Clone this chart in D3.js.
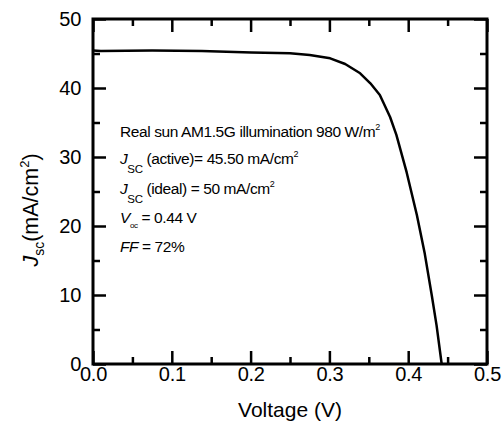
<!DOCTYPE html>
<meta charset="utf-8">
<title>J-V curve</title>
<style>
    body { margin: 0; background: #fff; }
    svg { display: block; }
    text { font-family: "Liberation Sans", Arial, sans-serif; fill: #000; }
    .axis .domain { display: none; }
    .axis .tick line { stroke: #000; stroke-width: 2.5; }
    .axis .tick text { font-size: 20px; letter-spacing: -0.3px; }
    .frame { fill: none; stroke: #000; stroke-width: 3; }
    .curve { fill: none; stroke: #000; stroke-width: 2.5; stroke-linejoin: round; }
    .note { font-size: 15.5px; letter-spacing: -0.4px; }
</style>
<body></body>
<script src="https://cdn.jsdelivr.net/npm/d3@7"></script>
<script>
    // J-V curve
    var voltage = [0.000, 0.010, 0.075, 0.138, 0.201, 0.250, 0.275, 0.301, 0.320, 0.339, 0.352,
                   0.364, 0.368, 0.377, 0.385, 0.398, 0.411, 0.421, 0.430, 0.436, 0.4425];
    var current = [45.45, 45.35, 45.42, 45.36, 45.15, 45.03, 44.78, 44.30, 43.48, 42.13, 40.68,
                   38.99, 38.00, 35.80, 33.20, 27.80, 21.60, 16.00, 9.90, 5.60, 0.0];

    var xMajor = [0.0, 0.1, 0.2, 0.3, 0.4, 0.5];
    var xMinor = [0.05, 0.15, 0.25, 0.35, 0.45];
    var yMajor = [0, 10, 20, 30, 40, 50];
    var yMinor = [5, 15, 25, 35, 45];

    var margin = {top: 19, right: 15, bottom: 59, left: 93},
        width = 502 - margin.left - margin.right,
        height = 423 - margin.top - margin.bottom;

    var x = d3.scaleLinear().domain([0, 0.5]).range([0, width]);
    var y = d3.scaleLinear().domain([0, 50]).range([height, 0]);

    var svg = d3.select("body").append("svg")
        .attr("width", 502)
        .attr("height", 423)
        .append("g")
        .attr("transform", "translate(" + margin.left + "," + margin.top + ")");

    // bottom
    svg.append("g").attr("class", "axis")
        .attr("transform", "translate(0," + height + ")")
        .call(d3.axisBottom(x).tickValues(xMajor).tickSize(-13).tickPadding(3)
            .tickFormat(d3.format(".1f")));
    svg.append("g").attr("class", "axis")
        .attr("transform", "translate(0," + height + ")")
        .call(d3.axisBottom(x).tickValues(xMinor).tickSize(-7).tickFormat(""));
    // top
    svg.append("g").attr("class", "axis")
        .call(d3.axisTop(x).tickValues(xMajor).tickSize(-13).tickFormat(""));
    svg.append("g").attr("class", "axis")
        .call(d3.axisTop(x).tickValues(xMinor).tickSize(-7).tickFormat(""));
    // left
    svg.append("g").attr("class", "axis")
        .call(d3.axisLeft(y).tickValues(yMajor).tickSize(-13).tickPadding(12));
    svg.append("g").attr("class", "axis")
        .call(d3.axisLeft(y).tickValues(yMinor).tickSize(-7).tickFormat(""));
    // right
    svg.append("g").attr("class", "axis")
        .attr("transform", "translate(" + width + ",0)")
        .call(d3.axisRight(y).tickValues(yMajor).tickSize(-13).tickFormat(""));
    svg.append("g").attr("class", "axis")
        .attr("transform", "translate(" + width + ",0)")
        .call(d3.axisRight(y).tickValues(yMinor).tickSize(-7).tickFormat(""));

    svg.append("rect").attr("class", "frame")
        .attr("width", width).attr("height", height);

    var line = d3.line()
        .x(function(d, i) { return x(voltage[i]); })
        .y(function(d, i) { return y(current[i]); });
    svg.append("path").attr("class", "curve").attr("d", line(voltage));

    // axis titles
    svg.append("text")
        .attr("x", 197).attr("y", height + 53)
        .attr("text-anchor", "middle")
        .style("font-size", "21px")
        .text("Voltage (V)");

    var yt = svg.append("text")
        .attr("transform", "translate(-55,191) rotate(-90)")
        .attr("text-anchor", "middle")
        .style("font-size", "21.5px");
    yt.append("tspan").style("font-style", "italic").text("J");
    yt.append("tspan").attr("dy", 6).style("font-size", "14px").text("sc");
    yt.append("tspan").attr("dy", -6).text("(mA/cm");
    yt.append("tspan").attr("dy", -9).style("font-size", "13px").text("2");
    yt.append("tspan").attr("dy", 9).text(")");

    // notes
    var nx = 27;
    var n1 = svg.append("text").attr("class", "note").attr("x", nx).attr("y", 118);
    n1.append("tspan").text("Real sun AM1.5G illumination 980 W/m");
    n1.append("tspan").attr("dy", -7).style("font-size", "9px").text("2");

    var n2 = svg.append("text").attr("class", "note").attr("x", nx).attr("y", 145);
    n2.append("tspan").style("font-style", "italic").text("J");
    n2.append("tspan").attr("dy", 9).style("font-size", "11.5px").text("SC");
    n2.append("tspan").attr("dy", -9).text(" (active)= 45.50 mA/cm");
    n2.append("tspan").attr("dy", -7).style("font-size", "9px").text("2");

    var n3 = svg.append("text").attr("class", "note").attr("x", nx).attr("y", 175);
    n3.append("tspan").style("font-style", "italic").text("J");
    n3.append("tspan").attr("dy", 9).style("font-size", "11.5px").text("SC");
    n3.append("tspan").attr("dy", -9).text(" (ideal) = 50 mA/cm");
    n3.append("tspan").attr("dy", -7).style("font-size", "9px").text("2");

    var n4 = svg.append("text").attr("class", "note").attr("x", nx).attr("y", 204);
    n4.append("tspan").style("font-style", "italic").text("V");
    n4.append("tspan").attr("dy", 5).style("font-size", "8px").text("oc");
    n4.append("tspan").attr("dy", -5).text(" = 0.44 V");

    var n5 = svg.append("text").attr("class", "note").attr("x", nx).attr("y", 233);
    n5.append("tspan").style("font-style", "italic").text("FF");
    n5.append("tspan").text(" = 72%");
</script>
